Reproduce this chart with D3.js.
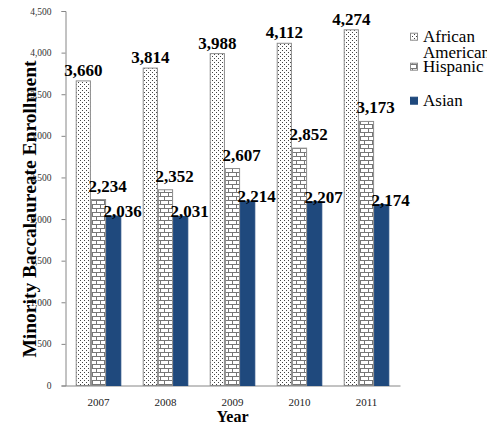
<!DOCTYPE html>
<html>
<head>
<meta charset="utf-8">
<script src="https://cdn.jsdelivr.net/npm/d3@7"></script>
<style>
  html, body { margin: 0; padding: 0; background: #fff; }
  svg { display: block; }
</style>
</head>
<body>
<svg id="chart" width="487" height="424"></svg>
<script>
// Enrollment by year and group
const years = ["2007", "2008", "2009", "2010", "2011"];
const seriesNames = ["African American", "Hispanic", "Asian"];
const africanAmerican = [3660, 3814, 3988, 4112, 4274];
const hispanic = [2234, 2352, 2607, 2852, 3173];
const asian = [2036, 2031, 2214, 2207, 2174];
const yTicks = [0, 500, 1000, 1500, 2000, 2500, 3000, 3500, 4000, 4500];

const seriesValues = [africanAmerican, hispanic, asian];
const serif = "'Liberation Serif', 'Times New Roman', 'DejaVu Serif', serif";

const svg = d3.select("#chart").attr("font-family", serif);
const defs = svg.append("defs");

// Dotted fill
const dots = defs.append("pattern")
  .attr("id", "pat-dots").attr("patternUnits", "userSpaceOnUse")
  .attr("width", 4).attr("height", 4);
dots.append("rect").attr("width", 4).attr("height", 4).attr("fill", "#fff");
dots.append("rect").attr("x", 0).attr("y", 0).attr("width", 1).attr("height", 1).attr("fill", "#444");
dots.append("rect").attr("x", 2).attr("y", 2).attr("width", 1).attr("height", 1).attr("fill", "#444");

// Brick fill
const brick = defs.append("pattern")
  .attr("id", "pat-brick").attr("patternUnits", "userSpaceOnUse")
  .attr("width", 8).attr("height", 8);
brick.append("rect").attr("width", 8).attr("height", 8).attr("fill", "#fff");
brick.append("path")
  .attr("d", "M0,0.5H8M0,4.5H8M0.5,0.5V4.5M4.5,4.5V8.5")
  .attr("stroke", "#777").attr("stroke-width", 1).attr("fill", "none");

const fills = ["url(#pat-dots)", "url(#pat-brick)", "#1f497d"];
const strokes = ["#8c8c8c", "#8c8c8c", "#1f497d"];

const x0 = d3.scaleBand().domain(years).range([65, 400])
  .paddingInner(0.32).paddingOuter(0.16);
const x1 = d3.scaleBand().domain(seriesNames).range([0, x0.bandwidth()]);
const y = d3.scaleLinear().domain([0, 4500]).range([385.5, 11]);

// Y axis
const yAxis = svg.append("g").attr("transform", "translate(65.5,0)")
  .call(d3.axisLeft(y).tickValues(yTicks).tickSize(4).tickPadding(10)
    .tickFormat(d3.format(",")));
yAxis.attr("font-family", serif);
yAxis.select(".domain").attr("stroke", "#868686");
yAxis.selectAll(".tick line").attr("stroke", "#868686");
yAxis.selectAll(".tick text").attr("font-size", 9.5).attr("fill", "#333");

// X axis
const xAxis = svg.append("g").attr("transform", `translate(0,${y(0)})`)
  .call(d3.axisBottom(x0).tickSize(0).tickPadding(13));
xAxis.attr("font-family", serif);
xAxis.select(".domain").attr("stroke", "#868686");
xAxis.selectAll(".tick text").attr("font-size", 11).attr("fill", "#222");

// Bars
const rows = [];
years.forEach((yr, i) => {
  seriesNames.forEach((s, j) => rows.push({ year: yr, series: s, si: j, value: seriesValues[j][i] }));
});

svg.append("g").selectAll("rect").data(rows).join("rect")
  .attr("x", d => x0(d.year) + x1(d.series) + 0.5)
  .attr("y", d => y(d.value))
  .attr("width", x1.bandwidth() - 1)
  .attr("height", d => y(0) - y(d.value))
  .attr("fill", d => fills[d.si])
  .attr("stroke", d => strokes[d.si])
  .attr("stroke-width", 1);

// Value labels
const labelDx = [0, 9, 9];
const labelDy = [-5, -8, 1];
svg.append("g").selectAll("text").data(rows).join("text")
  .attr("x", d => x0(d.year) + x1(d.series) + x1.bandwidth() / 2 + labelDx[d.si])
  .attr("y", d => y(d.value) + labelDy[d.si])
  .attr("text-anchor", "middle")
  .attr("font-size", 17).attr("font-weight", "bold").attr("fill", "#000")
  .text(d => d3.format(",")(d.value));

// Axis titles
svg.append("text").attr("x", 232.5).attr("y", 422)
  .attr("text-anchor", "middle").attr("font-size", 16).attr("font-weight", "bold")
  .text("Year");
svg.append("text")
  .attr("transform", "translate(36,209) rotate(-90)")
  .attr("text-anchor", "middle").attr("font-size", 19.5).attr("font-weight", "bold")
  .text("Minority Baccalaureate Enrollment");

// Legend
const legendBaselines = [41.7, 71.7, 105.7];
const legend = svg.append("g").attr("font-family", serif);
seriesNames.forEach((name, j) => {
  const by = legendBaselines[j];
  legend.append("rect").attr("x", 410.5).attr("y", by - 8.5)
    .attr("width", 7).attr("height", 7)
    .attr("fill", fills[j]).attr("stroke", strokes[j]).attr("stroke-width", 1);
  const t = legend.append("text").attr("x", 423).attr("y", by)
    .attr("font-size", 17).attr("fill", "#000");
  name.split(" ").forEach((w, k) => {
    t.append("tspan").attr("x", 423).attr("dy", k === 0 ? 0 : 16.5).text(w);
  });
});
</script>
</body>
</html>
